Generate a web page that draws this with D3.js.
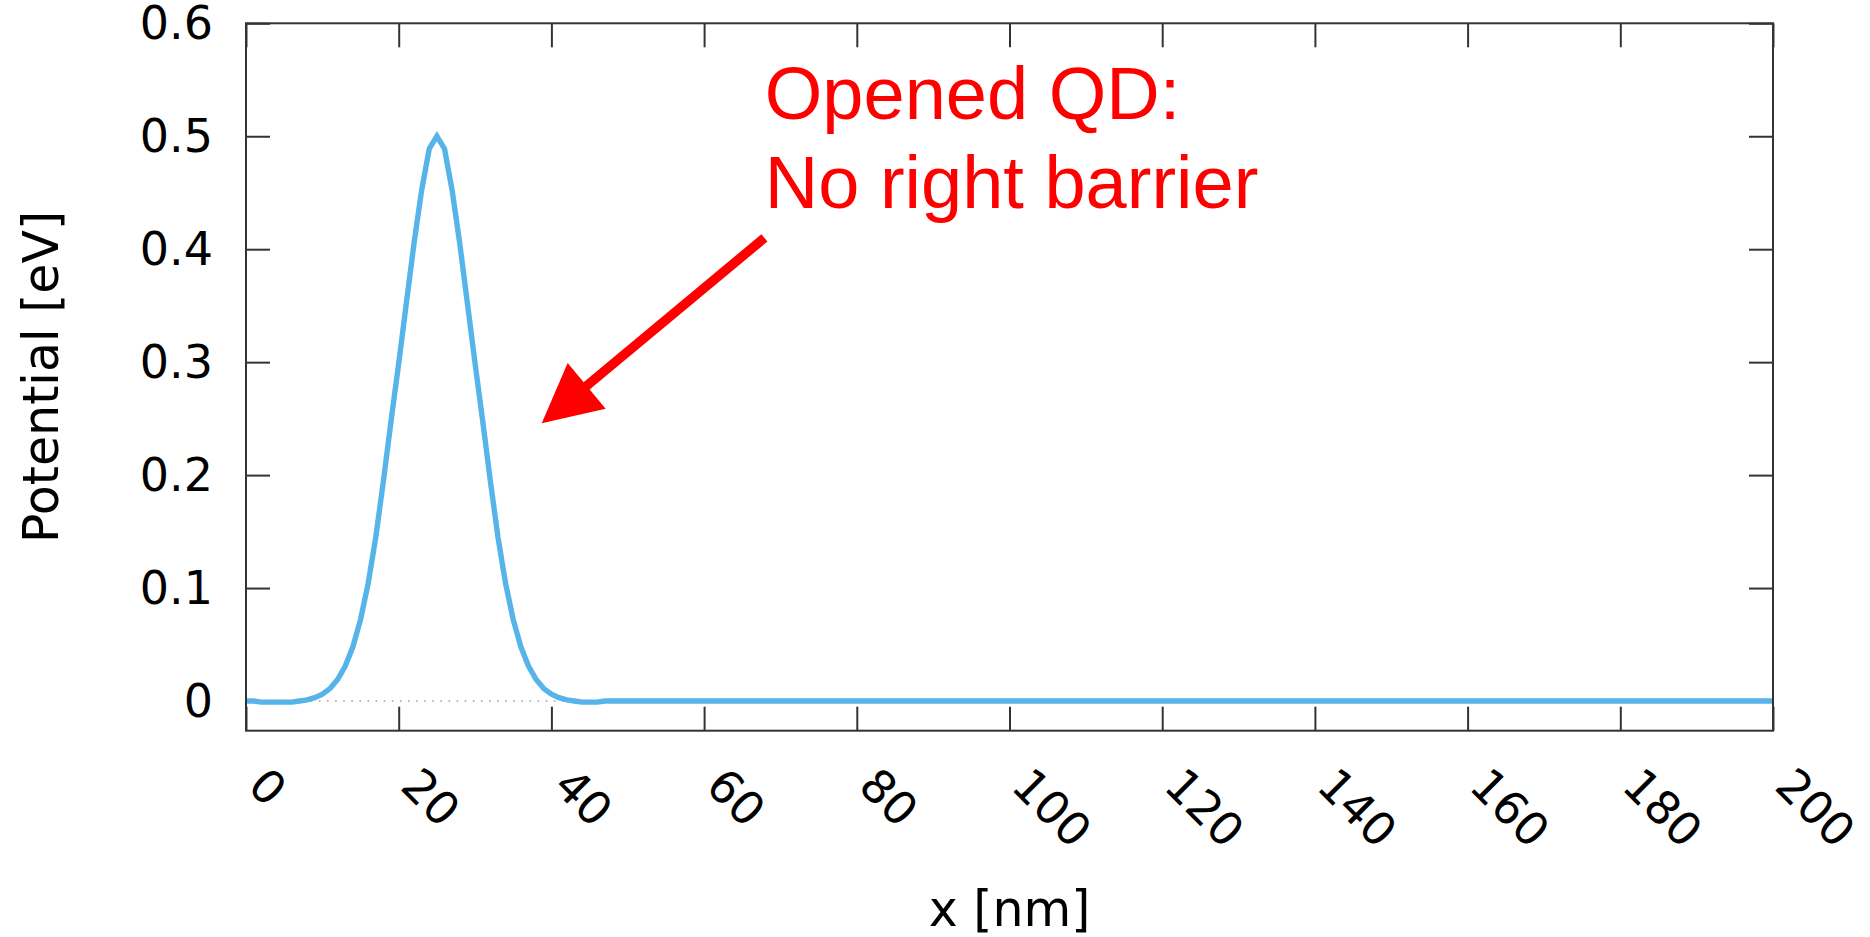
<!DOCTYPE html>
<html>
<head>
<meta charset="utf-8">
<script src="https://cdn.jsdelivr.net/npm/d3@7/dist/d3.min.js"></script>
<style>
  html, body { margin: 0; padding: 0; background: #ffffff; }
  svg { display: block; }
</style>
</head>
<body>
<svg id="chart" width="1870" height="937"></svg>
<script>
// ---- data ----
const xPositions = [0,1,2,3,4,5,6,7,8,9,10,11,12,13,14,15,16,17,18,19,20,21,22,23,24,25,
                    26,27,28,29,30,31,32,33,34,35,36,37,38,39,40,41,42,43,44,45,46,47,48,50,60,80,100,120,140,160,180,200];
const potential  = [0.000,0.000,-0.001,-0.001,-0.001,-0.001,-0.001,0.000,0.001,0.003,0.006,0.011,0.019,0.031,0.048,0.072,0.104,0.145,0.195,0.248,0.299,0.352,0.405,0.452,0.489,0.500,
                    0.489,0.452,0.405,0.352,0.299,0.248,0.195,0.145,0.104,0.072,0.048,0.031,0.019,0.011,0.006,0.003,0.001,0.000,-0.001,-0.001,-0.001,0.000,0.000,0.000,0.000,0.000,0.000,0.000,0.000,0.000,0.000,0.000];
const xTicks = [0,20,40,60,80,100,120,140,160,180,200];
const xTickLabels = ["0","20","40","60","80","100","120","140","160","180","200"];
const yTicks = [0,0.1,0.2,0.3,0.4,0.5,0.6];
const yTickLabels = ["0","0.1","0.2","0.3","0.4","0.5","0.6"];
const xDomain = [0, 200];
const yDomain = [-0.0263, 0.6];
const xLabel = "x [nm]";
const yLabel = "Potential [eV]";
const noteLines = ["Opened QD:", "No right barrier"];
// annotation anchor points in data units
const noteAnchor = {x: 67.95, y: 0.515};
const arrowTail = {x: 67.9, y: 0.410};
const arrowTip  = {x: 38.73, y: 0.2459};

// ---- layout ----
const W = 1870, H = 937;
const m = {left: 246, right: 1773, top: 23.3, bottom: 730.7};

const svg = d3.select("#chart");
svg.append("rect").attr("width", W).attr("height", H).attr("fill", "#fff");

const x = d3.scaleLinear().domain(xDomain).range([m.left, m.right]);
const y = d3.scaleLinear().domain(yDomain).range([m.bottom, m.top]);

const frameColor = "#333333";
const tickLen = 24;
const tickFont = "'DejaVu Sans', Verdana, sans-serif";

// zero line (dotted)
svg.append("line")
  .attr("x1", x(xDomain[0])).attr("x2", x(xDomain[1]))
  .attr("y1", y(0)).attr("y2", y(0))
  .attr("stroke", "#a0a0a0").attr("stroke-width", 1.5)
  .attr("stroke-dasharray", "1.6,6.5");

// axes with inward ticks (mirrored)
const axB = d3.axisBottom(x).tickValues(xTicks).tickSize(tickLen).tickFormat("");
const axT = d3.axisTop(x).tickValues(xTicks).tickSize(tickLen).tickFormat("");
const axL = d3.axisLeft(y).tickValues(yTicks).tickSize(tickLen).tickFormat("");
const axR = d3.axisRight(y).tickValues(yTicks).tickSize(tickLen).tickFormat("");

function styleAxis(g) {
  g.select(".domain").remove();
  g.selectAll(".tick line").attr("stroke", frameColor).attr("stroke-width", 2);
}
svg.append("g").attr("transform", `translate(0,${m.bottom})`).call(axB).call(styleAxis)
  .selectAll(".tick line").attr("y2", -tickLen);
svg.append("g").attr("transform", `translate(0,${m.top})`).call(axT).call(styleAxis)
  .selectAll(".tick line").attr("y2", tickLen);
svg.append("g").attr("transform", `translate(${m.left},0)`).call(axL).call(styleAxis)
  .selectAll(".tick line").attr("x2", tickLen);
svg.append("g").attr("transform", `translate(${m.right},0)`).call(axR).call(styleAxis)
  .selectAll(".tick line").attr("x2", -tickLen);

// curve
const line = d3.line().x((d, i) => x(xPositions[i])).y(d => y(d));
svg.append("path")
  .datum(potential)
  .attr("d", line)
  .attr("fill", "none")
  .attr("stroke", "#56b4e9")
  .attr("stroke-width", 5.4)
  .attr("stroke-linejoin", "miter");

// frame
svg.append("rect")
  .attr("x", m.left).attr("y", m.top)
  .attr("width", m.right - m.left).attr("height", m.bottom - m.top)
  .attr("fill", "none").attr("stroke", frameColor).attr("stroke-width", 2);

// y tick labels
svg.append("g").selectAll("text").data(yTicks).join("text")
  .attr("x", 213).attr("y", d => y(d))
  .attr("text-anchor", "end").attr("dominant-baseline", "central")
  .attr("font-family", tickFont).attr("font-size", 46).attr("fill", "#000")
  .text((d, i) => yTickLabels[i]);

// x tick labels (rotated)
svg.append("g").selectAll("text").data(xTicks).join("text")
  .attr("transform", d => `translate(${x(d)},788) rotate(45)`)
  .attr("text-anchor", "start")
  .attr("font-family", tickFont).attr("font-size", 46).attr("fill", "#000")
  .text((d, i) => xTickLabels[i]);

// axis labels
svg.append("text")
  .attr("x", (m.left + m.right) / 2).attr("y", 926)
  .attr("text-anchor", "middle")
  .attr("font-family", tickFont).attr("font-size", 49).attr("fill", "#000")
  .text(xLabel);
svg.append("text")
  .attr("transform", `translate(58,${(m.top + m.bottom) / 2}) rotate(-90)`)
  .attr("text-anchor", "middle")
  .attr("font-family", tickFont).attr("font-size", 49).attr("fill", "#000")
  .text(yLabel);

// annotation text
const note = svg.append("text")
  .attr("font-family", "'Liberation Sans', Arial, sans-serif")
  .attr("font-size", 74).attr("fill", "#ff0000");
noteLines.forEach((t, i) => {
  note.append("tspan")
    .attr("x", x(noteAnchor.x))
    .attr("y", y(noteAnchor.y) + i * 89)
    .text(t);
});

// arrow
const tx = x(arrowTail.x), ty = y(arrowTail.y);
const hx = x(arrowTip.x),  hy = y(arrowTip.y);
const ang = Math.atan2(hy - ty, hx - tx);
const headLen = 58.5, headHalf = 29.7;
const bx = hx - headLen * Math.cos(ang), by = hy - headLen * Math.sin(ang);
svg.append("line")
  .attr("x1", tx).attr("y1", ty).attr("x2", bx + 4 * Math.cos(ang)).attr("y2", by + 4 * Math.sin(ang))
  .attr("stroke", "#ff0000").attr("stroke-width", 9.5).attr("stroke-linecap", "butt");
const px = -Math.sin(ang), py = Math.cos(ang);
svg.append("polygon")
  .attr("points", [
    [hx, hy],
    [bx + headHalf * px, by + headHalf * py],
    [bx - headHalf * px, by - headHalf * py]
  ].map(p => p.join(",")).join(" "))
  .attr("fill", "#ff0000");
</script>
</body>
</html>
